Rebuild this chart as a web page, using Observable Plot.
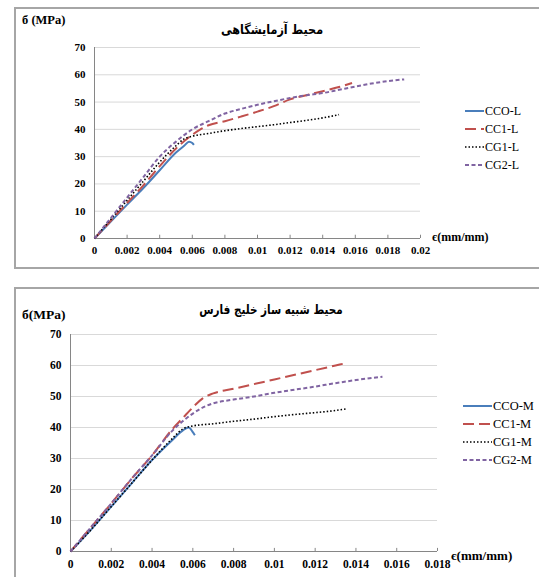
<!DOCTYPE html>
<html>
<head>
<meta charset="utf-8">
<script src="https://cdn.jsdelivr.net/npm/d3@7"></script>
<script src="https://cdn.jsdelivr.net/npm/@observablehq/plot@0.6"></script>
<style>
  body { margin:0; width:539px; height:577px; position:relative; overflow:hidden; background:#fff; font-family:"Liberation Serif","Times New Roman",serif; }
  .abs { position:absolute; white-space:nowrap; }
  .box { position:absolute; border:2px solid #a6a6a6; box-sizing:border-box; }
  .ylab { font-weight:bold; color:#000; font-family:"Liberation Serif","Times New Roman",serif; }
  .title { font-weight:bold; font-family:"DejaVu Sans",sans-serif; direction:rtl; transform-origin:center; }
  .leg { color:#000; display:flex; align-items:center; height:14px; transform:translateY(-50%); font-family:"Liberation Serif","Times New Roman",serif; }
  .leg svg { margin-right:1px; }
  .chart { position:absolute; left:0; }
  .chart text { font-family:"Liberation Serif","Times New Roman",serif; }
</style>
</head>
<body>
<script>
// ---------- data: laboratory environment (L) ----------
const seriesL = ["CCO-L", "CC1-L", "CG1-L", "CG2-L"];
const CCO_L = [[0,0],[0.001,6.2],[0.002,12.4],[0.003,18.5],[0.004,25],[0.005,31.5],[0.0055,34],[0.0058,35.5],[0.006,35],[0.0061,34.3]];
const CC1_L = [[0,0],[0.001,6.5],[0.002,13],[0.003,19.5],[0.004,26.5],[0.005,33],[0.006,38],[0.0065,40],[0.007,41.5],[0.008,43],[0.009,44.7],[0.01,46.5],[0.011,48.5],[0.012,51],[0.013,52.5],[0.014,54],[0.015,55.5],[0.0158,57]];
const CG1_L = [[0,0],[0.001,7],[0.002,14],[0.003,21],[0.004,28],[0.005,34],[0.0055,36.5],[0.006,37.5],[0.007,38.5],[0.008,39.5],[0.009,40.3],[0.01,41],[0.011,41.7],[0.012,42.5],[0.013,43.3],[0.014,44.2],[0.015,45.4]];
const CG2_L = [[0,0],[0.001,7.5],[0.002,15],[0.003,22.5],[0.004,30],[0.005,35.5],[0.006,40],[0.007,43],[0.008,45.8],[0.009,47.5],[0.01,49],[0.011,50.3],[0.012,51.5],[0.013,52.5],[0.014,53.3],[0.015,54.5],[0.016,55.7],[0.017,56.8],[0.018,57.7],[0.019,58.3]];
const xTicksL = [0,0.002,0.004,0.006,0.008,0.01,0.012,0.014,0.016,0.018,0.02];

// ---------- data: Persian Gulf simulated environment (M) ----------
const seriesM = ["CCO-M", "CC1-M", "CG1-M", "CG2-M"];
const CCO_M = [[0,0],[0.001,7],[0.002,14.5],[0.003,22],[0.004,29.5],[0.005,36],[0.0055,39],[0.0058,40],[0.006,38.5],[0.0061,37.5]];
const CC1_M = [[0,0],[0.001,7.8],[0.002,15.5],[0.003,23.5],[0.004,31],[0.005,39.5],[0.0055,43],[0.006,46.5],[0.0065,49.5],[0.007,51],[0.008,52.5],[0.009,54],[0.01,55.5],[0.011,57],[0.012,58.5],[0.013,60],[0.0134,60.6]];
const CG1_M = [[0,0],[0.001,7],[0.002,14.5],[0.003,22],[0.004,29.5],[0.005,36.5],[0.0055,39.5],[0.006,40.5],[0.007,41.2],[0.008,42],[0.009,42.7],[0.01,43.5],[0.011,44.2],[0.012,44.8],[0.013,45.5],[0.0135,46]];
const CG2_M = [[0,0],[0.001,7.8],[0.002,15.5],[0.003,23.5],[0.004,31],[0.005,39],[0.0055,42],[0.006,44.5],[0.0065,46.5],[0.007,47.8],[0.008,49],[0.009,50],[0.01,51.2],[0.011,52.2],[0.012,53.2],[0.013,54.3],[0.014,55.3],[0.0153,56.4]];
const xTicksM = [0,0.002,0.004,0.006,0.008,0.01,0.012,0.014,0.016,0.018];

const yTicks = [0,10,20,30,40,50,60,70];

// ---------- styles ----------
const styles = [
  {stroke:"#4A7EBB", strokeWidth:2, dash:null},
  {stroke:"#C0504D", strokeWidth:2, dash:"11,5"},
  {stroke:"#000000", strokeWidth:1.6, dash:"1.5,2"},
  {stroke:"#8064A2", strokeWidth:2, dash:"4,2.5"}
];

const fmt = d => d === 0 ? "0" : String(+d.toFixed(3));
const serif = '"Liberation Serif", "Times New Roman", serif';

function makeChart(seriesData, xTicks, opts) {
  const marks = [
    Plot.ruleY(yTicks.filter(d => d > 0), {stroke:"#d9d9d9", strokeWidth:1}),
    Plot.ruleY([0], {stroke:"#868686", strokeWidth:1}),
    Plot.ruleX([0], {stroke:"#868686", strokeWidth:1}),
    Plot.ruleX(xTicks.slice(1), {y1:0, y2:opts.tickLen, stroke:"#868686", strokeWidth:1}),
    Plot.axisX({ticks:xTicks, tickSize:0, tickPadding:opts.xPad, tickFormat:fmt, label:null, fontWeight:"bold", fontSize:opts.fs}),
    Plot.axisY({ticks:yTicks, tickSize:0, tickPadding:opts.yPad, label:null, fontWeight:"bold", fontSize:opts.fs})
  ];
  seriesData.forEach((data, i) => {
    const s = styles[i];
    marks.push(Plot.line(data, {x:d => d[0], y:d => d[1], stroke:s.stroke, strokeWidth:s.strokeWidth,
      strokeDasharray:s.dash, curve:"monotone-x", strokeLinecap:"butt"}));
  });
  return Plot.plot({
    width:539, height:opts.height,
    marginLeft:opts.ml, marginRight:opts.mr, marginTop:opts.mt, marginBottom:opts.mb,
    x:{domain:[0, xTicks[xTicks.length-1]]},
    y:{domain:[0,70]},
    style:{fontFamily:serif, fontSize:"11px", background:"transparent", color:"#000", overflow:"visible"},
    marks
  });
}

function add(html) { document.body.insertAdjacentHTML("beforeend", html); }

function legend(names, x, y0, dy, lineLen, fontSize) {
  names.forEach((n, i) => {
    const s = styles[i];
    add(`<div class="abs leg" style="left:${x}px;top:${y0 + i*dy}px;font-size:${fontSize}px">
      <svg width="${lineLen}" height="6"><line x1="0" y1="3" x2="${lineLen}" y2="3" stroke="${s.stroke}" stroke-width="${s.strokeWidth}" ${s.dash ? `stroke-dasharray="${s.dash}"` : ""}/></svg>${n}</div>`);
  });
}

// boxes
add(`<div class="box" style="left:14px;top:7px;width:540px;height:262px;"></div>`);
add(`<div class="box" style="left:14px;top:287px;width:540px;height:300px;"></div>`);

// chart 1
const c1 = makeChart([CCO_L, CC1_L, CG1_L, CG2_L], xTicksL, {height:270, ml:94, mr:119, mt:47, mb:32, tickLen:1.2, xPad:8, yPad:9, fs:11});
c1.classList.add("chart"); c1.style.top = "0px";
document.body.appendChild(c1);

// chart 2
const c2 = makeChart([CCO_M, CC1_M, CG1_M, CG2_M], xTicksM, {height:297, ml:70, mr:102, mt:54, mb:26, tickLen:1.0, xPad:8, yPad:9, fs:11.5});
c2.classList.add("chart"); c2.style.top = "280px";
document.body.appendChild(c2);

// texts chart 1
add(`<div class="abs ylab" style="left:22px;top:13px;font-size:12.5px">б (MPa)</div>`);
add(`<div class="abs title" style="left:272px;top:22px;font-size:13px;transform:translateX(-50%) scaleX(0.86)">محیط آزمایشگاهی</div>`);
add(`<div class="abs ylab" style="left:432px;top:230px;font-size:12px">є(mm/mm)</div>`);
legend(seriesL, 465, 111, 18, 19, 12);

// texts chart 2
add(`<div class="abs ylab" style="left:22px;top:307px;font-size:13.5px">б(MPa)</div>`);
add(`<div class="abs title" style="left:271px;top:302px;font-size:13px;transform:translateX(-50%) scaleX(0.8)">محیط شبیه ساز خلیج فارس</div>`);
add(`<div class="abs ylab" style="left:451px;top:548px;font-size:13px">є(mm/mm)</div>`);
legend(seriesM, 463, 406, 18, 29, 12.5);
</script>
</body>
</html>
